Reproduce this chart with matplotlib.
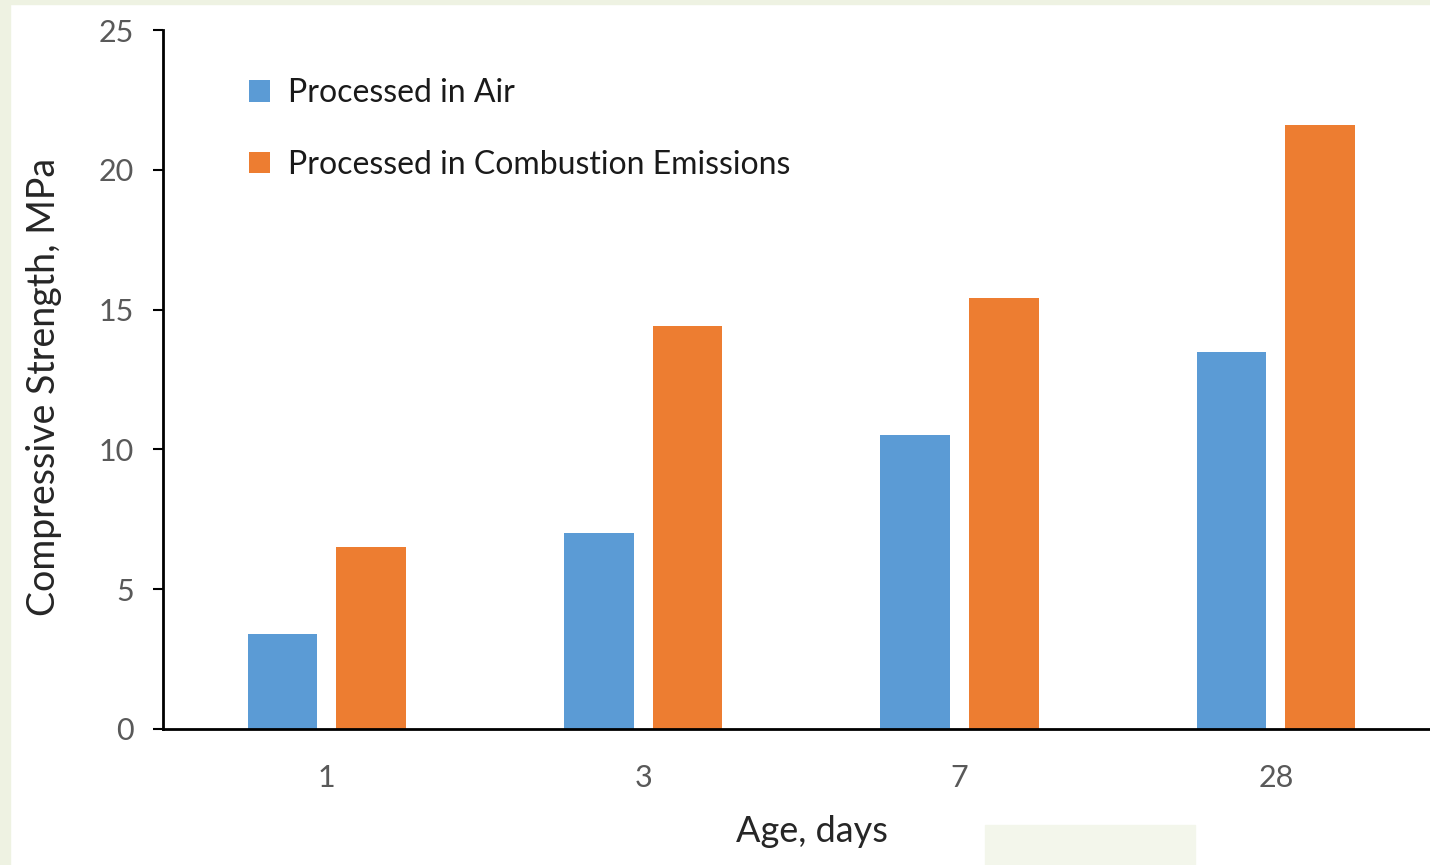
import matplotlib.pyplot as plt
import matplotlib.patches as mpatches
import numpy as np

# compressive strength vs. curing age
ages = ['1', '3', '7', '28']
air = [3.4, 7.0, 10.5, 13.5]
emissions = [6.5, 14.4, 15.4, 21.6]
series_names = ['Processed in Air', 'Processed in Combustion Emissions']
yticks = [0, 5, 10, 15, 20, 25]

BLUE = '#5B9BD5'
ORANGE = '#ED7D31'
GREEN_BG = '#EEF2E2'

plt.rcParams['font.family'] = ['Lato', 'DejaVu Sans']

W, H = 1430, 865
fig = plt.figure(figsize=(W / 100, H / 100), dpi=100)
fig.patch.set_facecolor('white')

# slide background showing at the edges
fig.patches.append(mpatches.Rectangle((0, 0), 10 / W, 1, transform=fig.transFigure,
                                      color=GREEN_BG, zorder=0))
fig.patches.append(mpatches.Rectangle((0, 1 - 4 / H), 1, 4 / H, transform=fig.transFigure,
                                      color=GREEN_BG, zorder=0))
fig.patches.append(mpatches.Rectangle((985 / W, 0), 210 / W, 40 / H, transform=fig.transFigure,
                                      color='#F3F6EB', zorder=0))

left, right, top, bottom = 163, 1430, 30, 729
aw, ah = right - left, bottom - top
ax = fig.add_axes([left / W, 1 - bottom / H, aw / W, ah / H])
ax.set_facecolor('none')

x = np.arange(len(ages))
width = 0.22
offset = 0.14
ax.bar(x - offset, air, width, color=BLUE, label=series_names[0], zorder=2)
ax.bar(x + offset, emissions, width, color=ORANGE, label=series_names[1], zorder=2)

ax.set_xlim(-0.518, 3.487)
ax.set_ylim(0, 25)
ax.set_yticks(yticks)
ax.set_xticks(x)
ax.set_xticklabels(ages)

for s in ['top', 'right']:
    ax.spines[s].set_visible(False)
for s in ['left', 'bottom']:
    ax.spines[s].set_linewidth(2)
    ax.spines[s].set_color('black')

ax.tick_params(axis='y', length=7, width=1.5, color='black', labelcolor='#595959',
               labelsize=22, pad=14)
ax.tick_params(axis='x', length=0, labelcolor='#595959', labelsize=22, pad=25)

ax.set_ylabel('Compressive Strength, MPa', fontsize=27, color='#262626')
ax.set_xlabel('Age, days', fontsize=26, color='#262626')
ax.yaxis.set_label_coords((62 - left) / aw, (bottom - 387) / ah)
ax.xaxis.set_label_coords((812 - left) / aw, (bottom - 815) / ah)

ax.legend(loc='upper left', bbox_to_anchor=((249 - left) / aw, 1 - (78 - top) / ah),
          frameon=False, fontsize=23, handlelength=0.66, handleheight=0.66,
          handletextpad=0.56, labelspacing=1.3, borderaxespad=0, borderpad=0,
          labelcolor='#1a1a1a')

fig.savefig('out.png', dpi=100)
